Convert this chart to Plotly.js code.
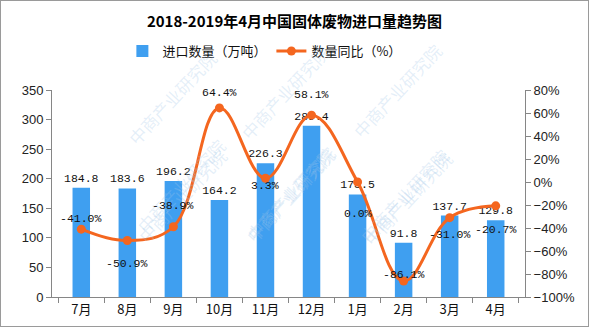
<!DOCTYPE html>
<html><head><meta charset="utf-8">
<script src="https://cdn.plot.ly/plotly-3.0.1.min.js"></script>
<style>
html,body{margin:0;padding:0;background:#fff;}
#chart{width:587px;height:325px;border:1px solid #9a9a9a;}
</style></head>
<body><div id="chart"></div>
<script>
// ---- data ----
const months = ['7月','8月','9月','10月','11月','12月','1月','2月','3月','4月'];
const importVol = [184.8,183.6,196.2,164.2,226.3,289.4,173.5,91.8,137.7,129.8];
const yoyPct = [-41.0,-50.9,-38.9,64.4,3.3,58.1,0.0,-86.1,-31.0,-20.7];
const seriesNames = ['进口数量（万吨）','数量同比（%）'];
const titleText = '2018-2019年4月中国固体废物进口量趋势图';
// label vertical shifts (px) for line labels
const yoyLabelShift = [11,-23,21,15,-7,21,-31,7,-17,-24];

const W = 587, H = 325;
const M = {l:51, r:63, t:89, b:29};
const pw = W - M.l - M.r, ph = H - M.t - M.b;
function px2paper(x, y){ return {x:(x-1-M.l)/pw, y:(H-M.b-(y-1))/ph}; }

const cnFont = '"Noto Sans CJK SC", "Noto Sans", sans-serif';
const monoFont = '"Liberation Mono", "DejaVu Sans Mono", monospace';
const sansFont = '"Liberation Sans", Arial, sans-serif';

const annotations = [];
// watermarks (drawn first, faint)
const wmLogos = [[70,95],[235,90],[400,88],[80,193],[240,193],[407,193],[78,292],[240,300],[410,305]];
wmLogos.forEach(([lx,ly])=>{
  const p = px2paper(lx+50, ly-52);
  annotations.push({x:p.x,y:p.y,xref:'paper',yref:'paper',text:'中商产业研究院',textangle:-47,
    showarrow:false,font:{family:cnFont,size:17,color:'rgba(160,198,232,0.28)'}});
});
// line labels
months.forEach((m,i)=>{
  annotations.push({x:m, y:yoyPct[i], xref:'x', yref:'y2', text:yoyPct[i].toFixed(1)+'%',
    showarrow:false, yshift:yoyLabelShift[i], font:{family:monoFont,size:11.5,color:'#111'}});
});

const traces = [
  {type:'bar', name:seriesNames[0], x:months, y:importVol,
   marker:{color:'#3f9ff0'}, text:importVol.map(v=>v.toFixed(1)), textposition:'outside',
   constraintext:'none', textfont:{family:monoFont,size:11.5,color:'#111'}, cliponaxis:false, hoverinfo:'skip'},
  {type:'scatter', mode:'lines+markers', name:seriesNames[1], x:months, y:yoyPct, yaxis:'y2',
   line:{color:'#f4661f', width:3, shape:'spline', smoothing:1.1},
   marker:{color:'#f4661f', size:9}, cliponaxis:false, hoverinfo:'skip'}
];

const axLine = '#868686';
const layout = {
  width:W, height:H, margin:M, paper_bgcolor:'#fff', plot_bgcolor:'rgba(0,0,0,0)',
  showlegend:true, bargap:0.62,
  title:{text:titleText, x:0.5, xanchor:'center', y:1-21/H, yanchor:'middle', yref:'container',
    font:{family:cnFont, size:15, color:'#000', weight:'bold'}},
  legend:{orientation:'h', x:0.449, xanchor:'center', y:1+(89-50)/ph, yanchor:'middle',
    font:{family:cnFont,size:13,color:'#111'}, itemwidth:30, traceorder:'normal'},
  xaxis:{type:'category', showline:true, linecolor:axLine, linewidth:1, ticks:'outside', ticklen:5,
    tickcolor:axLine, tickson:'boundaries', showgrid:false, zeroline:false,
    tickfont:{family:cnFont,size:13,color:'#111'}},
  yaxis:{range:[0,350], dtick:50, showline:true, linecolor:axLine, ticks:'outside', ticklen:5,
    tickcolor:axLine, showgrid:false, zeroline:false,
    tickfont:{family:sansFont,size:13,color:'#222'}},
  yaxis2:{range:[-100,80], dtick:20, ticksuffix:'%', overlaying:'y', side:'right', showline:true,
    linecolor:axLine, ticks:'outside', ticklen:5, tickcolor:axLine, showgrid:false, zeroline:false,
    tickfont:{family:sansFont,size:13,color:'#222'}},
  annotations:annotations
};
Plotly.newPlot('chart', traces, layout, {displayModeBar:false, staticPlot:true});
</script></body></html>
